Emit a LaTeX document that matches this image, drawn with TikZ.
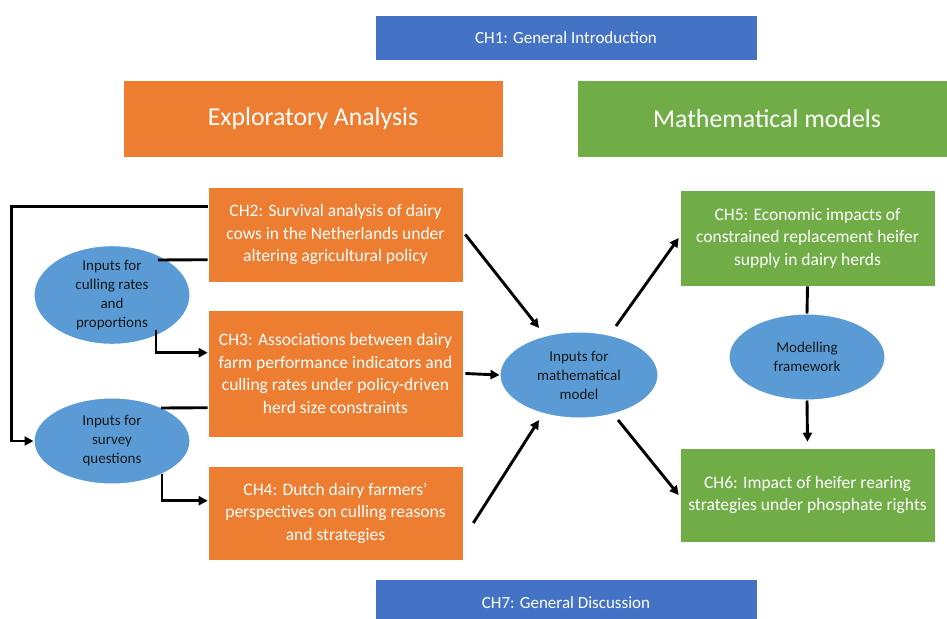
\documentclass[tikz,border=0pt]{standalone}
\usepackage{fontspec}
\setmainfont{Carlito}
\usetikzlibrary{shapes.geometric,arrows.meta}
\definecolor{cblue}{HTML}{4472C4}
\definecolor{corange}{HTML}{ED7D31}
\definecolor{cgreen}{HTML}{70AD47}
\definecolor{cell}{HTML}{5B9BD5}
\tikzset{
  chbox/.style={rectangle, fill=corange, draw=white, line width=0.6pt, text=white, align=center, inner sep=0pt, minimum width=255pt, font=\fontsize{17.5}{22.5}\selectfont},
  greenbox/.style={chbox, fill=cgreen},
  bluebox/.style={chbox, fill=cblue, minimum width=382pt, font=\fontsize{17}{20}\selectfont},
  headbox/.style={rectangle, draw=white, line width=0.6pt, text=white, inner sep=0pt, minimum height=77pt, font=\fontsize{25.8}{30}\selectfont},
  ell/.style={ellipse, fill=cell, draw=white, line width=1pt, inner sep=0pt, minimum width=156pt, minimum height=86pt, align=center, text=black!90, font=\fontsize{15}{19}\selectfont},
  conn/.style={line width=2.9pt, black},
  arr/.style={conn, -{Triangle[length=9pt,width=9pt]}},
}
\begin{document}
\begin{tikzpicture}[x=1pt,y=-1pt]
\useasboundingbox (0,0) rectangle (947,618);
\clip (0,0) rectangle (947,618);
% header boxes
\node[bluebox, minimum height=45pt] (ch1) at (566,37.5) {CH1: General Introduction};
\node[bluebox, minimum height=48pt] (ch7) at (566,603) {CH7: General Discussion};
\node[headbox, fill=corange, minimum width=380pt] (ea) at (313,118.5) {Exploratory Analysis};
\node[headbox, fill=cgreen, minimum width=380pt] (mm) at (767,118.5) {Mathematical models};
% chapter boxes
\node[chbox, minimum height=95pt] (ch2) at (335.5,234.5) {CH2: Survival analysis of dairy\\cows in the Netherlands under\\altering agricultural policy};
\node[chbox, minimum height=127pt] (ch3) at (335.5,373.5) {CH3: Associations between dairy\\farm performance indicators and\\culling rates under policy-driven\\herd size constraints};
\node[chbox, minimum height=94pt] (ch4) at (335.5,513) {CH4: Dutch dairy farmers’\\perspectives on culling reasons\\and strategies};
\node[greenbox, minimum height=96pt] (ch5) at (807.5,238) {CH5: Economic impacts of\\constrained replacement heifer\\supply in dairy herds};
\node[greenbox, minimum height=94pt] (ch6) at (807.5,495) {CH6: Impact of heifer rearing\\strategies under phosphate rights};
% ellipses
\node[ell] (cull) at (112,295) {Inputs for\\culling rates\\and\\proportions};
\node[ell] (surv) at (112,441) {Inputs for\\survey\\questions};
\node[ell, minimum width=158pt] (mi) at (579,375) {Inputs for\\mathematical\\model};
\node[ell] (mf) at (807,357) {Modelling\\framework};
% connectors (left)
\coordinate (c2a) at ([yshift=-20pt]ch2.north west);
\coordinate (c2b) at ([yshift=-73pt]ch2.north west);
\coordinate (c3a) at ([yshift=-43pt]ch3.north west);
\coordinate (c3b) at ([yshift=-98pt]ch3.north west);
\coordinate (c4a) at ([yshift=-35pt]ch4.north west);
\draw[arr] (c2a) -- ++(-196,0) |- (surv.west);
\draw[conn] ([shift={(46,-35)}]cull.center) -- (c2b);
\draw[arr] ([shift={(44,35)}]cull.center) |- (c3a);
\draw[conn] ([shift={(49,-33)}]surv.center) -- (c3b);
\draw[arr] ([shift={(50,33)}]surv.center) |- (c4a);
% connectors (centre and right)
\draw[arr] ([xshift=2pt]ch2.east) -- ([shift={(-40,-47)}]mi.center);
\draw[arr] ([xshift=2pt]ch3.east) -- (mi.west);
\draw[arr] ([shift={(10,10)}]ch4.east) -- ([shift={(-40,45)}]mi.center);
\draw[arr] ([shift={(37,-49)}]mi.center) -- ([xshift=-1pt]ch5.west);
\draw[arr] ([shift={(39,45)}]mi.center) -- ([xshift=-1pt]ch6.west);
\draw[conn] (ch5.south) -- (mf.north);
\draw[arr] (mf.south) -- ([yshift=6pt]ch6.north);
\end{tikzpicture}
\end{document}
